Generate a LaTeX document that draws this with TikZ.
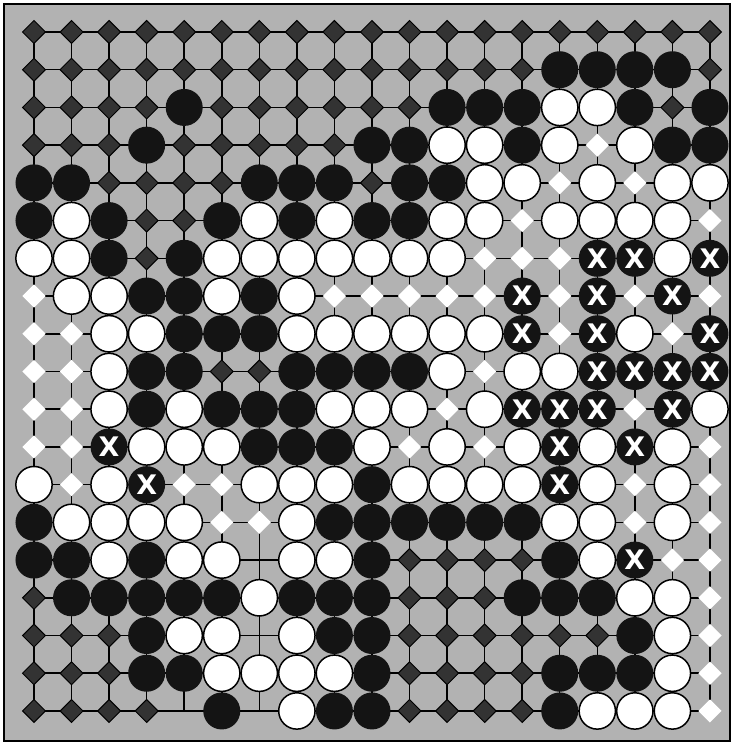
\documentclass[tikz,border=0pt]{standalone}
\usepackage{fontspec}
\newfontfamily\xfont{DejaVu Sans}
\usetikzlibrary{shapes.geometric}

\begin{document}
\begin{tikzpicture}[
    x=11.267mm, y=-11.317mm,
    board/.style={fill=black!30, draw=black, line width=0.6mm},
    gridline/.style={line width=0.45mm},
    ptB/.style={circle, fill=black!92, minimum size=11.1mm, inner sep=0pt},
    ptW/.style={circle, fill=white, draw=black, line width=0.45mm, minimum size=10.9mm, inner sep=0pt},
    ptX/.style={ptB, label={[text=white, font=\xfont\bfseries\fontsize{23}{23}\selectfont]center:X}},
    ptb/.style={diamond, fill=black!80, draw=black, line width=0.3mm, minimum size=7mm, inner sep=0pt},
    ptw/.style={diamond, fill=white, minimum size=7mm, inner sep=0pt},
    pte/.style={coordinate},
]

%% BOARD
    \useasboundingbox (0.095,0.152) rectangle (19.61,19.876);
    \filldraw[board] (0.201,0.258) rectangle (19.53,19.80);

    % lines
    \foreach \i in {1,...,19} {
        \draw[gridline] (\i,1) -- (\i,19);
        \draw[gridline] (1,\i) -- (19,\i);
    }

%% STONES
    % B/W stones, X dead black, b/w territory, e empty point
    \foreach \r/\rowdata in {
        1/{b,b,b,b,b,b,b,b,b,b,b,b,b,b,b,b,b,b,b},
        2/{b,b,b,b,b,b,b,b,b,b,b,b,b,b,B,B,B,B,b},
        3/{b,b,b,b,B,b,b,b,b,b,b,B,B,B,W,W,B,b,B},
        4/{b,b,b,B,b,b,b,b,b,B,B,W,W,B,W,w,W,B,B},
        5/{B,B,b,b,b,b,B,B,B,b,B,B,W,W,w,W,w,W,W},
        6/{B,W,B,b,b,B,W,B,W,B,B,W,W,w,W,W,W,W,w},
        7/{W,W,B,b,B,W,W,W,W,W,W,W,w,w,w,X,X,W,X},
        8/{w,W,W,B,B,W,B,W,w,w,w,w,w,X,w,X,w,X,w},
        9/{w,w,W,W,B,B,B,W,W,W,W,W,W,X,w,X,W,w,X},
        10/{w,w,W,B,B,b,b,B,B,B,B,W,w,W,W,X,X,X,X},
        11/{w,w,W,B,W,B,B,B,W,W,W,w,W,X,X,X,w,X,W},
        12/{w,w,X,W,W,W,B,B,B,W,w,W,w,W,X,W,X,W,w},
        13/{W,w,W,X,w,w,W,W,W,B,W,W,W,W,X,W,w,W,w},
        14/{B,W,W,W,W,w,w,W,B,B,B,B,B,B,W,W,w,W,w},
        15/{B,B,W,B,W,W,e,W,W,B,b,b,b,b,B,W,X,w,w},
        16/{b,B,B,B,B,B,W,B,B,B,b,b,b,B,B,B,W,W,w},
        17/{b,b,b,B,W,W,e,W,B,B,b,b,b,b,b,b,B,W,w},
        18/{b,b,b,B,B,W,W,W,W,B,b,b,b,b,B,B,B,W,w},
        19/{b,b,b,b,e,B,e,W,B,B,b,b,b,b,B,W,W,W,w}%
    } {
        \foreach \t [count=\c] in \rowdata
            \node[pt\t] (p-\r-\c) at (\c,\r) {};
    }

\end{tikzpicture}
\end{document}
